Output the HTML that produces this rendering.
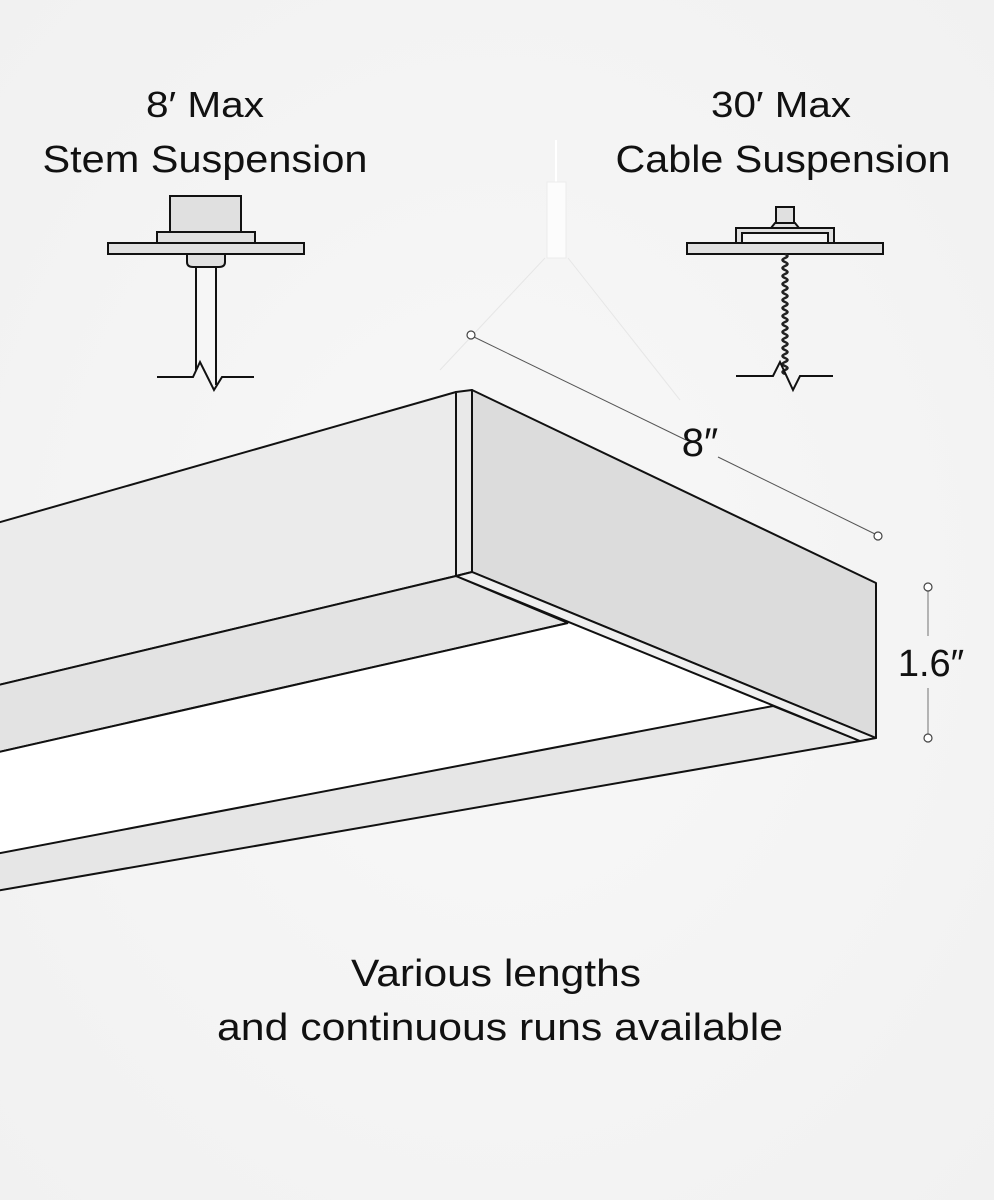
<!DOCTYPE html>
<html><head><meta charset="utf-8"><style>
html,body{margin:0;padding:0;background:#f4f4f4;}
svg{display:block;}
text{font-family:"Liberation Sans",sans-serif;fill:#111;}
</style></head><body>
<svg width="994" height="1200" viewBox="0 0 994 1200" xmlns="http://www.w3.org/2000/svg">
<defs>
<radialGradient id="bg" cx="0.5" cy="0.5" r="0.7">
<stop offset="0" stop-color="#f8f8f8"/><stop offset="1" stop-color="#f1f1f1"/>
</radialGradient>
</defs>
<rect width="994" height="1200" fill="url(#bg)"/>

<text x="205" y="117" font-size="36" text-anchor="middle" textLength="118" lengthAdjust="spacingAndGlyphs">8′ Max</text>
<text x="205" y="172" font-size="38" text-anchor="middle" textLength="325" lengthAdjust="spacingAndGlyphs">Stem Suspension</text>
<text x="781" y="117" font-size="36" text-anchor="middle" textLength="140" lengthAdjust="spacingAndGlyphs">30′ Max</text>
<text x="783" y="172" font-size="38" text-anchor="middle" textLength="335" lengthAdjust="spacingAndGlyphs">Cable Suspension</text>

<!-- stem icon -->
<g stroke="#111" stroke-width="2" fill="#e0e0e0">
<rect x="170" y="196" width="71" height="37"/>
<rect x="157" y="232" width="98" height="11"/>
<rect x="108" y="243" width="196" height="11"/>
<path d="M187 254 V262 Q187 267 193 267 H219 Q225 267 225 262 V254 Z"/>
</g>
<rect x="196" y="268" width="19" height="108" fill="#f6f6f6"/>
<path d="M157 377 H193 L200 362 L214 390 L222 377 H254" fill="none" stroke="#111" stroke-width="2"/>
<path d="M196 267 V370 M216 267 V385" stroke="#111" stroke-width="2" fill="none"/>

<!-- cable icon -->
<g stroke="#111" stroke-width="2" fill="#e0e0e0">
<rect x="776" y="207" width="18" height="16"/>
<path d="M775 223 H795 L799 228 H771 Z"/>
<rect x="736" y="228" width="98" height="15"/>
<rect x="742" y="233" width="86" height="10" fill="#f4f4f4"/>
<rect x="687" y="243" width="196" height="11"/>
</g>
<path d="M785 254 q5 2 0 4 q-5 2 0 4 q5 2 0 4 q-5 2 0 4 q5 2 0 4 q-5 2 0 4 q5 2 0 4 q-5 2 0 4 q5 2 0 4 q-5 2 0 4 q5 2 0 4 q-5 2 0 4 q5 2 0 4 q-5 2 0 4 q5 2 0 4 q-5 2 0 4 q5 2 0 4 q-5 2 0 4 q5 2 0 4 q-5 2 0 4 q5 2 0 4 q-5 2 0 4 q5 2 0 4 q-5 2 0 4 q5 2 0 4 q-5 2 0 4 q5 2 0 4 q-5 2 0 4 q5 2 0 4 q-5 2 0 4" fill="none" stroke="#222" stroke-width="2.5"/>
<path d="M736 376 H773 L780 362 L793 390 L800 376 H833" fill="none" stroke="#111" stroke-width="2"/>

<!-- pendant + faint cables -->
<line x1="556" y1="140" x2="556" y2="182" stroke="#fff" stroke-width="2"/>
<rect x="547" y="182" width="19" height="76" fill="#fcfcfc" stroke="#ececec"/>
<path d="M545 258 L440 370 M568 258 L680 400" stroke="#e6e6e6" stroke-width="1" fill="none"/>

<!-- fixture -->
<g stroke="#111" stroke-width="2" stroke-linejoin="round">
<polygon points="-10,525 456,392 456,576 -10,687" fill="#ebebeb"/>
<polygon points="456,392 472,390 472,572 456,576" fill="#e9e9e9"/>
<polygon points="472,390 876,583 876,738 472,572" fill="#dcdcdc"/>
<polygon points="-10,687 456,576 568,623 -10,754" fill="#e3e3e3"/>
<polygon points="-10,754 568,623 773,706 -10,855" fill="#ffffff" stroke="none"/>
<line x1="-10" y1="754" x2="568" y2="623"/>
<polygon points="-10,855 773,706 860,741 -10,892" fill="#e6e6e6"/>
<polygon points="456,576 472,572 876,738 860,741" fill="#efefef"/>
</g>

<!-- dimension 8" -->
<line x1="474" y1="337" x2="686" y2="440" stroke="#555" stroke-width="1"/>
<line x1="718" y1="457" x2="875" y2="534" stroke="#555" stroke-width="1"/>
<circle cx="471" cy="335" r="4" fill="#fff" stroke="#444" stroke-width="1.2"/>
<circle cx="878" cy="536" r="4" fill="#fff" stroke="#444" stroke-width="1.2"/>
<text x="700" y="456" font-size="40" text-anchor="middle">8″</text>

<!-- dimension 1.6" -->
<line x1="928" y1="591" x2="928" y2="636" stroke="#888" stroke-width="1.2"/>
<line x1="928" y1="688" x2="928" y2="734" stroke="#888" stroke-width="1.2"/>
<circle cx="928" cy="587" r="4" fill="#fff" stroke="#444" stroke-width="1.2"/>
<circle cx="928" cy="738" r="4" fill="#fff" stroke="#444" stroke-width="1.2"/>
<text x="931" y="676" font-size="38" text-anchor="middle">1.6″</text>

<text x="496" y="986" font-size="38" text-anchor="middle" textLength="290" lengthAdjust="spacingAndGlyphs">Various lengths</text>
<text x="500" y="1040" font-size="38" text-anchor="middle" textLength="566" lengthAdjust="spacingAndGlyphs">and continuous runs available</text>
</svg>
</body></html>
